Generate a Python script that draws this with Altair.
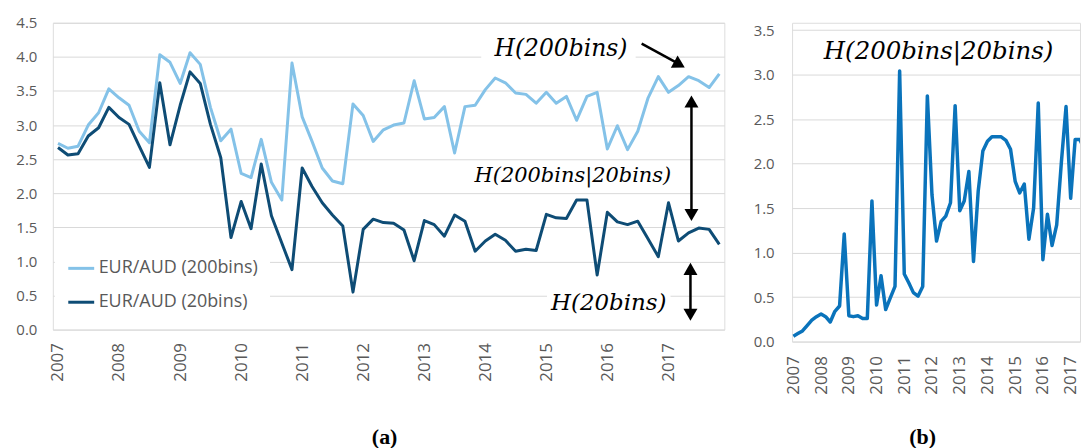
import altair as alt
import pandas as pd

# ---------------- data ----------------
years = list(range(2007, 2018))
months = [1, 3, 5, 7, 9, 11]
dates = [f"{y}-{m:02d}-01" for y in years for m in months]  # bimonthly, 66 points

h200 = [2.73, 2.66, 2.69, 3.00, 3.18, 3.53, 3.40, 3.29, 2.91, 2.74,
        4.03, 3.92, 3.61, 4.06, 3.89, 3.26, 2.77, 2.94, 2.29, 2.23,
        2.79, 2.16, 1.90, 3.91, 3.12, 2.76, 2.37, 2.18, 2.14, 3.31,
        3.14, 2.76, 2.93, 3.00, 3.03, 3.65, 3.09, 3.11, 3.27, 2.59,
        3.27, 3.29, 3.52, 3.69, 3.62, 3.47, 3.45, 3.32, 3.48, 3.32,
        3.42, 3.07, 3.42, 3.48, 2.65, 2.99, 2.64, 2.91, 3.40, 3.71,
        3.48, 3.58, 3.71, 3.65, 3.55, 3.75]

h20 = [2.67, 2.56, 2.58, 2.84, 2.96, 3.26, 3.11, 3.01, 2.69, 2.38,
       3.62, 2.71, 3.29, 3.78, 3.61, 3.01, 2.52, 1.35, 1.88, 1.48,
       2.43, 1.67, 1.27, 0.88, 2.37, 2.10, 1.86, 1.68, 1.52, 0.55,
       1.47, 1.62, 1.57, 1.56, 1.46, 1.01, 1.60, 1.54, 1.37, 1.68,
       1.59, 1.15, 1.30, 1.40, 1.31, 1.15, 1.18, 1.16, 1.69, 1.64,
       1.63, 1.90, 1.90, 0.80, 1.72, 1.58, 1.54, 1.59, 1.33, 1.07,
       1.86, 1.30, 1.42, 1.49, 1.47, 1.25]

cond = [0.06, 0.09, 0.12, 0.18, 0.24, 0.28, 0.31, 0.28, 0.22, 0.34,
        0.40, 1.21, 0.29, 0.28, 0.29, 0.26, 0.26, 1.58, 0.41, 0.74,
        0.36, 0.49, 0.62, 3.04, 0.76, 0.66, 0.55, 0.51, 0.62, 2.76,
        1.65, 1.13, 1.35, 1.41, 1.56, 2.65, 1.47, 1.58, 1.91, 0.90,
        1.69, 2.14, 2.25, 2.30, 2.30, 2.30, 2.26, 2.16, 1.80, 1.67,
        1.77, 1.15, 1.50, 2.68, 0.92, 1.43, 1.08, 1.31, 2.02, 2.64,
        1.61, 2.27, 2.27, 2.16, 2.08]

series_names = ["EUR/AUD (200bins)", "EUR/AUD (20bins)"]
y_ticks_a = [0.0, 0.5, 1.0, 1.5, 2.0, 2.5, 3.0, 3.5, 4.0, 4.5]
y_ticks_b = [0.0, 0.5, 1.0, 1.5, 2.0, 2.5, 3.0, 3.5]

df_a = pd.DataFrame({
    "date": dates * 2,
    "value": h200 + h20,
    "series": [series_names[0]] * len(h200) + [series_names[1]] * len(h20),
})
df_b = pd.DataFrame({"date": dates[:len(cond)], "value": cond})

# ---------------- style ----------------
FONT = "Open Sans"
MATH = "DejaVu Serif"
GRID = "#D9D9D9"
LABEL = "#595959"
LIGHT = "#84C2E8"
DARK = "#0E4C75"
BLUE = "#0A73BB"

WA, HA = 674, 308
WB, HB = 289, 320


def year_axis(pad):
    return alt.Axis(title=None,
                    values=[alt.DateTime(year=y, month=1, date=1) for y in years],
                    format="%Y", labelAngle=-90, grid=False, ticks=False,
                    domain=False, labelPadding=pad, labelFontSize=17,
                    labelColor=LABEL, labelFont=FONT)


def value_axis(vals, pad, ext):
    return alt.Axis(title=None, values=vals, format=".1f", grid=True,
                    gridColor=GRID, gridWidth=1, ticks=False, domain=False,
                    labelPadding=pad, labelFontSize=15, labelColor=LABEL,
                    labelFont=FONT, minExtent=ext, maxExtent=ext)


def one(text):
    return pd.DataFrame({"t": [text]})


# ---------------- panel (a) ----------------
xa = alt.X("date:T",
           scale=alt.Scale(domain=[alt.DateTime(year=2006, month=12, date=1),
                                   alt.DateTime(year=2017, month=12, date=1)]),
           axis=year_axis(13))
ya = alt.Y("value:Q", scale=alt.Scale(domain=[0, 4.5]),
           axis=value_axis(y_ticks_a, 16, 44))

lines_a = alt.Chart(df_a).mark_line(strokeWidth=3, strokeJoin="round").encode(
    x=xa, y=ya,
    color=alt.Color("series:N",
                    scale=alt.Scale(domain=series_names, range=[LIGHT, DARK]),
                    legend=alt.Legend(orient="none", legendX=2, legendY=220,
                                      title=None, symbolType="stroke",
                                      symbolStrokeWidth=3, symbolSize=676,
                                      labelFontSize=18, labelColor=LABEL,
                                      labelFont=FONT, labelOffset=3,
                                      fillColor="white", padding=12,
                                      rowPadding=10)),
)

# white boxes behind the math labels (they hide the gridlines)
box1 = alt.Chart(one("b")).mark_rect(color="white").encode(
    x=alt.value(430), x2=alt.value(585), y=alt.value(12), y2=alt.value(41))
box2 = alt.Chart(one("b")).mark_rect(color="white").encode(
    x=alt.value(496), x2=alt.value(620), y=alt.value(268), y2=alt.value(293))


def math_text(text, x, y, size=22):
    return alt.Chart(one(text)).mark_text(
        font=MATH, fontStyle="italic", fontSize=size, color="black",
        align="center", baseline="middle").encode(
        x=alt.value(x), y=alt.value(y), text="t:N")


t1 = math_text("H(200bins)", 510, 26, 23.5)
t2 = math_text("H(200bins|20bins)", 522, 154, 21)
t3 = math_text("H(20bins)", 558, 281, 23)

# arrows
arrow_lines = [
    alt.Chart(one("r")).mark_rule(color="black", strokeWidth=2.5).encode(
        x=alt.value(591), y=alt.value(21), x2=alt.value(626), y2=alt.value(40)),
    alt.Chart(one("r")).mark_rule(color="black", strokeWidth=2.5).encode(
        x=alt.value(641), x2=alt.value(641), y=alt.value(82), y2=alt.value(190)),
    alt.Chart(one("r")).mark_rule(color="black", strokeWidth=2.5).encode(
        x=alt.value(640), x2=alt.value(640), y=alt.value(250), y2=alt.value(290)),
]


def head(shape, x, y, angle=0):
    return alt.Chart(one("h")).mark_point(
        shape=shape, filled=True, color="black", opacity=1, size=196,
        angle=angle).encode(x=alt.value(x), y=alt.value(y))


heads = [
    head("triangle-right", 629, 42, 29),
    head("triangle-up", 641, 79),
    head("triangle-down", 641, 193),
    head("triangle-up", 640, 247),
    head("triangle-down", 640, 293),
]

cap_a = alt.Chart(one("(a)")).mark_text(
    font="Liberation Serif", fontWeight="bold", fontSize=22, color="black",
    align="center", baseline="middle").encode(
    x=alt.value(333), y=alt.value(416), text="t:N")

panel_a = alt.layer(box1, box2, lines_a, t1, t2, t3, *arrow_lines, *heads,
                    cap_a).properties(width=WA, height=HA)

# ---------------- panel (b) ----------------
xb = alt.X("date:T",
           scale=alt.Scale(domain=[alt.DateTime(year=2006, month=12, date=15),
                                   alt.DateTime(year=2017, month=5, date=4)]),
           axis=year_axis(14))
yb = alt.Y("value:Q", scale=alt.Scale(domain=[0, 3.5], range=[HB, 7.3]),
           axis=value_axis(y_ticks_b, 18, 45))

line_b = alt.Chart(df_b).mark_line(strokeWidth=3.5, strokeJoin="round",
                                   color=BLUE, clip=True).encode(x=xb, y=yb)
t_b = math_text("H(200bins|20bins)", 147, 29, size=24.5)
cap_b = alt.Chart(one("(b)")).mark_text(
    font="Liberation Serif", fontWeight="bold", fontSize=22, color="black",
    align="center", baseline="middle").encode(
    x=alt.value(131), y=alt.value(416), text="t:N")

panel_b = alt.layer(line_b, t_b, cap_b).properties(width=WB, height=HB)

chart = alt.hconcat(panel_a, panel_b, spacing=21).properties(
    padding={"left": 0, "top": 6, "right": 0, "bottom": 0}
).configure_view(stroke=None).configure(background="white")

chart.save("out.html", embed_options={"renderer": "svg", "actions": False})
